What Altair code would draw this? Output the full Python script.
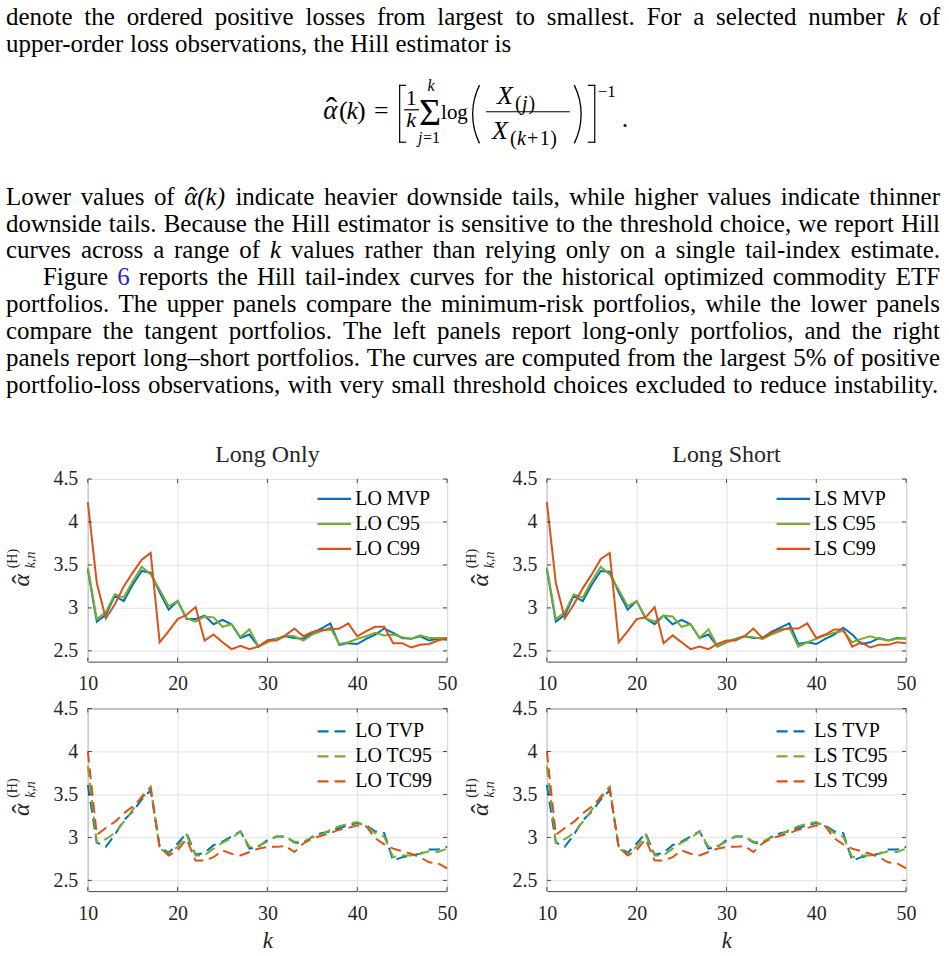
import altair as alt
import pandas as pd

# ---------------------------------------------------------------- data
K = list(range(10, 51))

LO_MVP = [3.45, 2.84, 2.92, 3.14, 3.08, 3.27, 3.43, 3.41, 3.18, 2.98, 3.08, 2.87, 2.87, 2.91,
          2.81, 2.86, 2.81, 2.65, 2.69, 2.55, 2.62, 2.64, 2.67, 2.65, 2.64, 2.71, 2.76, 2.82,
          2.57, 2.59, 2.58, 2.64, 2.69, 2.76, 2.71, 2.65, 2.64, 2.67, 2.62, 2.64, 2.63]
LO_C95 = [3.47, 2.87, 2.95, 3.16, 3.12, 3.31, 3.48, 3.39, 3.21, 3.02, 3.08, 2.88, 2.84, 2.90,
          2.89, 2.78, 2.81, 2.66, 2.75, 2.55, 2.60, 2.64, 2.68, 2.67, 2.62, 2.69, 2.73, 2.77,
          2.58, 2.60, 2.64, 2.67, 2.71, 2.68, 2.69, 2.66, 2.64, 2.68, 2.65, 2.65, 2.65]
LO_C99 = [4.23, 3.29, 2.88, 3.04, 3.25, 3.41, 3.56, 3.64, 2.60, 2.73, 2.87, 2.92, 3.01, 2.62,
          2.69, 2.60, 2.52, 2.56, 2.52, 2.55, 2.62, 2.62, 2.68, 2.76, 2.67, 2.72, 2.74, 2.75,
          2.76, 2.82, 2.67, 2.73, 2.78, 2.78, 2.59, 2.59, 2.54, 2.57, 2.58, 2.62, 2.65]

LS_MVP = [3.45, 2.84, 2.92, 3.14, 3.08, 3.27, 3.43, 3.42, 3.18, 2.98, 3.08, 2.88, 2.81, 2.91,
          2.81, 2.86, 2.81, 2.65, 2.69, 2.55, 2.60, 2.64, 2.67, 2.65, 2.65, 2.72, 2.77, 2.82,
          2.58, 2.60, 2.58, 2.64, 2.69, 2.77, 2.69, 2.58, 2.60, 2.65, 2.62, 2.65, 2.64]
LS_C95 = [3.47, 2.87, 2.95, 3.16, 3.12, 3.31, 3.48, 3.39, 3.21, 3.02, 3.08, 2.88, 2.84, 2.91,
          2.90, 2.78, 2.81, 2.65, 2.75, 2.55, 2.60, 2.64, 2.67, 2.66, 2.64, 2.69, 2.73, 2.77,
          2.55, 2.60, 2.64, 2.68, 2.71, 2.73, 2.60, 2.64, 2.67, 2.64, 2.62, 2.64, 2.65]
LS_C99 = [4.23, 3.29, 2.88, 3.04, 3.23, 3.39, 3.57, 3.64, 2.60, 2.73, 2.87, 2.89, 3.01, 2.59,
          2.68, 2.60, 2.52, 2.55, 2.52, 2.58, 2.62, 2.62, 2.67, 2.76, 2.65, 2.71, 2.75, 2.76,
          2.76, 2.82, 2.65, 2.69, 2.75, 2.75, 2.55, 2.60, 2.54, 2.57, 2.57, 2.60, 2.59]

LO_TVP = [3.61, 2.94, 2.89, 3.03, 3.20, 3.30, 3.44, 3.55, 2.89, 2.82, 2.93, 3.05, 2.80, 2.82,
          2.91, 2.95, 3.01, 3.07, 2.87, 2.89, 2.97, 3.01, 3.01, 2.94, 2.93, 3.01, 3.05, 3.07,
          3.11, 3.14, 3.17, 3.14, 3.07, 3.05, 2.73, 2.77, 2.79, 2.81, 2.86, 2.86, 2.89]
LO_TC95 = [3.83, 2.94, 2.98, 3.05, 3.18, 3.32, 3.48, 3.59, 2.87, 2.81, 2.89, 3.03, 2.79, 2.79,
           2.87, 2.94, 2.99, 3.07, 2.89, 2.90, 2.95, 3.01, 3.01, 2.95, 2.95, 3.00, 3.03, 3.09,
           3.13, 3.16, 3.18, 3.13, 3.05, 3.01, 2.77, 2.79, 2.79, 2.81, 2.84, 2.83, 2.87]
LO_TC99 = [4.00, 3.03, 3.11, 3.18, 3.28, 3.36, 3.46, 3.57, 2.89, 2.79, 2.85, 2.98, 2.73, 2.73,
           2.77, 2.85, 2.81, 2.79, 2.83, 2.87, 2.89, 2.89, 2.90, 2.83, 2.93, 2.99, 3.02, 3.05,
           3.09, 3.11, 3.14, 3.13, 2.99, 2.92, 2.87, 2.84, 2.81, 2.77, 2.71, 2.70, 2.64]

LS_TVP = [3.61, 2.94, 2.89, 3.03, 3.20, 3.30, 3.44, 3.55, 2.89, 2.82, 2.93, 3.05, 2.80, 2.82,
          2.91, 2.95, 3.01, 3.07, 2.87, 2.89, 2.97, 3.01, 3.01, 2.94, 2.93, 3.01, 3.05, 3.07,
          3.11, 3.14, 3.17, 3.14, 3.07, 3.05, 2.73, 2.77, 2.79, 2.81, 2.86, 2.86, 2.89]
LS_TC95 = [3.83, 2.94, 2.98, 3.05, 3.18, 3.32, 3.48, 3.59, 2.87, 2.81, 2.89, 3.03, 2.79, 2.79,
           2.87, 2.94, 2.99, 3.07, 2.89, 2.90, 2.95, 3.01, 3.01, 2.95, 2.95, 3.00, 3.03, 3.09,
           3.13, 3.16, 3.18, 3.13, 3.05, 3.01, 2.77, 2.79, 2.79, 2.81, 2.84, 2.83, 2.87]
LS_TC99 = [4.00, 3.03, 3.11, 3.18, 3.28, 3.36, 3.46, 3.57, 2.89, 2.79, 2.85, 2.98, 2.73, 2.73,
           2.77, 2.85, 2.81, 2.79, 2.83, 2.87, 2.89, 2.89, 2.90, 2.83, 2.93, 2.99, 3.02, 3.05,
           3.09, 3.11, 3.14, 3.13, 2.99, 2.92, 2.87, 2.84, 2.81, 2.77, 2.71, 2.70, 2.64]

NAMES_TL = ["LO MVP", "LO C95", "LO C99"]
NAMES_TR = ["LS MVP", "LS C95", "LS C99"]
NAMES_BL = ["LO TVP", "LO TC95", "LO TC99"]
NAMES_BR = ["LS TVP", "LS TC95", "LS TC99"]
PANEL_TITLES = ["Long Only", "Long Short"]
X_TICKS = [10, 20, 30, 40, 50]
Y_TICKS = [2.5, 3, 3.5, 4, 4.5]

BODY_BLOCKS = [
    ["denote the ordered positive losses from largest to smallest. For a selected number *k of",
     "upper-order loss observations, the Hill estimator is"],
    ["Lower values of ~\u03b1(k) indicate heavier downside tails, while higher values indicate thinner",
     "downside tails. Because the Hill estimator is sensitive to the threshold choice, we report Hill",
     "curves across a range of *k values rather than relying only on a single tail-index estimate.",
     "Figure #6 reports the Hill tail-index curves for the historical optimized commodity ETF",
     "portfolios. The upper panels compare the minimum-risk portfolios, while the lower panels",
     "compare the tangent portfolios. The left panels report long-only portfolios, and the right",
     "panels report long\u2013short portfolios. The curves are computed from the largest 5% of positive",
     "portfolio-loss observations, with very small threshold choices excluded to reduce instability."],
]

# ---------------------------------------------------------------- style
SERIF = "Liberation Serif"
INK = "#262626"
BOX = "#444444"
GRID = "#e2e2e2"
COLORS = ["#0072BD", "#77AC30", "#D95319"]
LINK = "#2323dd"
DASH = [11, 6]
PW, PH = 360, 183
OX = 87            # page x of the panels' plot origin (text block is laid out relative to it)
HAT = "\u02c6"

TIMES_W = {" ": 250, ",": 250, ".": 250, "-": 333, "\u2013": 500, "%": 833, "(": 333, ")": 333,
           ":": 278, ";": 278, "=": 564, "+": 564,
           "A": 722, "B": 667, "C": 667, "D": 722, "E": 611, "F": 556, "G": 722, "H": 722,
           "I": 333, "J": 389, "K": 722, "L": 611, "M": 889, "N": 722, "O": 722, "P": 556,
           "Q": 722, "R": 667, "S": 556, "T": 611, "U": 722, "V": 722, "W": 944, "X": 722,
           "Y": 722, "Z": 611,
           "a": 444, "b": 500, "c": 444, "d": 500, "e": 444, "f": 333, "g": 500, "h": 500,
           "i": 278, "j": 278, "k": 500, "l": 278, "m": 778, "n": 500, "o": 500, "p": 500,
           "q": 500, "r": 333, "s": 389, "t": 278, "u": 500, "v": 500, "w": 722, "x": 500,
           "y": 500, "z": 444}
ITALIC_W = {"k": 444, "\u03b1": 560, "j": 278, "X": 611}


def tok_width(tok, italic):
    total = 0
    for ch in tok:
        if italic and ch in ITALIC_W:
            total += ITALIC_W[ch]
        elif ch in TIMES_W:
            total += TIMES_W[ch]
        elif ch.isdigit():
            total += 500
        else:
            total += ITALIC_W.get(ch, 500)
    return total / 1000.0


FS = 25
LEFT, RIGHT = 5, 941
INDENT = 42
BLOCK_TOP = [23, 203]
LEAD = 27

rows = []
for b, (block, top) in enumerate(zip(BODY_BLOCKS, BLOCK_TOP)):
    for i, line in enumerate(block):
        parsed = []
        for t in line.split(" "):
            if t.startswith("*"):
                parsed.append((t[1:], "i", "black", False))
            elif t.startswith("~"):
                parsed.append((t[1:], "i", "black", True))
            elif t.startswith("#"):
                parsed.append((t[1:], "n", LINK, False))
            else:
                parsed.append((t, "n", "black", False))
        left = INDENT if line.startswith("Figure") else LEFT
        justify = not (b == 0 and i == len(block) - 1)
        widths = [tok_width(t, s == "i") * FS for t, s, _, _ in parsed]
        space = 0.25 * FS
        natural = sum(widths) + space * (len(parsed) - 1)
        gap = space + ((RIGHT - left - natural) / (len(parsed) - 1) if justify else 0)
        x = left
        y = top + i * LEAD
        for (t, s, c, hat), w in zip(parsed, widths):
            rows.append({"t": t, "x": x - OX, "y": y, "fs": FS, "st": s, "al": "left", "c": c})
            if hat:
                rows.append({"t": HAT, "x": x + 7.5 - OX, "y": y + 1, "fs": 27, "st": "n",
                             "al": "center", "c": "black"})
            x += w + gap

# displayed formula  alpha-hat(k) = [ 1/k sum log( X(j) / X(k+1) ) ]^-1 .
FORMULA = [
    ("\u03b1", 330, 117, 27, "i", "center"),
    (HAT, 331, 119, 34, "n", "center"),
    ("(", 343, 117, 26, "n", "center"),
    ("k", 352, 117, 26, "i", "center"),
    (")", 361, 117, 26, "n", "center"),
    ("=", 381, 117, 26, "n", "center"),
    ("1", 411, 103, 22, "n", "center"),
    ("k", 411, 125, 22, "i", "center"),
    ("\u03a3", 430, 123, 38, "n", "center"),
    ("k", 431, 89, 16, "i", "center"),
    ("j", 418, 141, 16, "i", "left"),
    ("=1", 423, 141, 16, "n", "left"),
    ("log", 441, 117, 21, "n", "left"),
    ("X", 497, 102, 26, "i", "left"),
    ("(", 515, 108, 20, "n", "left"),
    ("j", 522, 108, 20, "i", "left"),
    (")", 528.5, 108, 20, "n", "left"),
    ("X", 492, 137, 26, "i", "left"),
    ("(", 510, 143, 20, "n", "left"),
    ("k", 517, 143, 20, "i", "left"),
    ("+", 527, 143, 20, "n", "left"),
    ("1", 540, 143, 20, "n", "left"),
    (")", 550.5, 143, 20, "n", "left"),
    ("\u22121", 598, 95, 17, "n", "left"),
    (".", 622, 125, 26, "n", "left"),
]
for t, x, y, fs, st, al in FORMULA:
    rows.append({"t": t, "x": x - OX, "y": y, "fs": fs, "st": st, "al": al, "c": "black"})
text_df = pd.DataFrame(rows)

RULES = pd.DataFrame([
    (399.5, 83, 399.5, 141), (399, 83.5, 406, 83.5), (399, 140.5, 406, 140.5),
    (595, 83, 595, 141), (588, 83.5, 595.5, 83.5), (588, 140.5, 595.5, 140.5),
    (404, 108, 419, 108), (486, 110, 570, 110),
], columns=["x", "y", "x2", "y2"])
RULES["x"] = RULES["x"] - OX
RULES["x2"] = RULES["x2"] - OX


def text_layer(st, al):
    return alt.Chart(text_df).transform_filter(
        f"datum.st == '{st}' && datum.al == '{al}'"
    ).mark_text(font=SERIF, align=al, baseline="alphabetic",
                fontStyle="italic" if st == "i" else "normal").encode(
        x=alt.X("x:Q", scale=None, axis=None),
        y=alt.Y("y:Q", scale=None, axis=None),
        text="t:N",
        size=alt.Size("fs:Q", scale=None),
        color=alt.Color("c:N", scale=None),
    )


rule_layer = alt.Chart(RULES).mark_rule(color="black", strokeWidth=1.2).encode(
    x=alt.X("x:Q", scale=None, axis=None), y=alt.Y("y:Q", scale=None, axis=None),
    x2="x2:Q", y2="y2:Q")
arc_l = alt.Chart(RULES.head(1)).mark_arc(theta=4.25, theta2=5.175, radius=66, radius2=64.7,
                                          color="black").encode(
    x=alt.value(538 - OX), y=alt.value(112.5))
arc_r = alt.Chart(RULES.head(1)).mark_arc(theta=1.108, theta2=2.034, radius=66, radius2=64.7,
                                          color="black").encode(
    x=alt.value(516 - OX), y=alt.value(112.5))

text_chart = alt.layer(
    text_layer("n", "left"), text_layer("i", "left"),
    text_layer("n", "center"), text_layer("i", "center"),
    rule_layer, arc_l, arc_r,
).properties(width=949 - OX, height=437, view=alt.ViewBackground(stroke="transparent"))


# ---------------------------------------------------------------- panels
def panel(names, values, dashed, title=None, xtitle=False, legend_y=10):
    df = pd.DataFrame([{"k": k, "v": v, "s": n}
                       for n, vals in zip(names, values) for k, v in zip(K, vals)])
    xscale = alt.Scale(domain=[10, 50], nice=False, zero=False)
    yscale = alt.Scale(domain=[2.375, 4.5], nice=False, zero=False)
    ax_common = dict(grid=True, ticks=False, tickSize=0, domain=False, labelFont=SERIF,
                     labelFontSize=20, labelColor=INK, gridColor=GRID, gridWidth=1)
    xaxis_kw = dict(values=X_TICKS, labelPadding=12, labelFlush=False, **ax_common)
    if xtitle:
        xaxis_kw.update(title="k", titleFont=SERIF, titleFontSize=23, titleFontStyle="italic",
                        titleFontWeight="normal", titleColor=INK, titlePadding=6)
        xenc = alt.X("k:Q", scale=xscale, axis=alt.Axis(**xaxis_kw))
    else:
        xenc = alt.X("k:Q", scale=xscale, axis=alt.Axis(**xaxis_kw), title=None)
    yenc = alt.Y("v:Q", scale=yscale, title=None,
                 axis=alt.Axis(values=Y_TICKS, format="~g", labelPadding=10, **ax_common))

    leg_kw = dict(orient="none", legendX=237, legendY=legend_y, title=None,
                  symbolType="M-3.05,0H3.05", symbolSize=121, symbolStrokeWidth=2.2,
                  labelFont=SERIF, labelFontSize=20, labelColor="black", labelOffset=11,
                  rowPadding=5, padding=0)
    line_kw = dict(strokeWidth=2)
    if dashed:
        leg_kw["symbolDash"] = DASH
        line_kw["strokeDash"] = DASH

    lines = alt.Chart(df).mark_line(**line_kw).encode(
        x=xenc, y=yenc,
        color=alt.Color("s:N", scale=alt.Scale(domain=names, range=COLORS),
                        sort=names, legend=alt.Legend(**leg_kw)),
    )

    xt = pd.DataFrame({"k": X_TICKS})
    yt = pd.DataFrame({"v": Y_TICKS})
    t_bot = alt.Chart(xt).mark_rule(color=BOX, strokeWidth=1).encode(
        x=xenc, y=alt.value(PH), y2=alt.value(PH - 4))
    t_top = alt.Chart(xt).mark_rule(color=BOX, strokeWidth=1).encode(
        x=xenc, y=alt.value(0), y2=alt.value(4))
    t_lft = alt.Chart(yt).mark_rule(color=BOX, strokeWidth=1).encode(
        y=yenc, x=alt.value(0), x2=alt.value(4))
    t_rgt = alt.Chart(yt).mark_rule(color=BOX, strokeWidth=1).encode(
        y=yenc, x=alt.value(PW), x2=alt.value(PW - 4))

    # y-axis title:  alpha-hat^(H)_{k,n}
    ax0, ay0 = -64, PH / 2
    one = pd.DataFrame({"d": [0]})

    def ypiece(txt, size, italic, dx, dy, align):
        kw = dict(text=txt, font=SERIF, fontSize=size, angle=270, align=align,
                  baseline="alphabetic", dx=dx, dy=dy, color=INK)
        if italic:
            kw["fontStyle"] = "italic"
        return alt.Chart(one).mark_text(**kw).encode(x=alt.value(ax0), y=alt.value(ay0))

    ytitle = [
        ypiece("\u03b1", 24, True, -10, 5, "center"),
        ypiece(HAT, 28, False, -9, 7, "center"),
        ypiece("(H)", 14, False, 2, -7, "left"),
        ypiece("k,n", 14, True, 2, 11, "left"),
    ]
    pin = alt.Chart(one).mark_rule(opacity=0).encode(
        x=alt.value(-OX), x2=alt.value(-OX + 1), y=alt.value(80), y2=alt.value(81))

    ch = alt.layer(lines, t_bot, t_top, t_lft, t_rgt, *ytitle, pin).properties(
        width=PW, height=PH)
    if title:
        ch = ch.properties(title=alt.TitleParams(title, font=SERIF, fontSize=24,
                                                 fontWeight="normal", color=INK,
                                                 offset=2, anchor="middle"))
    return ch


p1 = panel(NAMES_TL, [LO_MVP, LO_C95, LO_C99], False, title=PANEL_TITLES[0])
p2 = panel(NAMES_TR, [LS_MVP, LS_C95, LS_C99], False, title=PANEL_TITLES[1])
p3 = panel(NAMES_BL, [LO_TVP, LO_TC95, LO_TC99], True, xtitle=True, legend_y=13)
p4 = panel(NAMES_BR, [LS_TVP, LS_TC95, LS_TC99], True, xtitle=True, legend_y=13)

row1 = alt.hconcat(p1, p2, spacing=100, bounds="flush").resolve_scale(
    color="independent").resolve_legend(color="independent")
row2 = alt.hconcat(p3, p4, spacing=100, bounds="flush").resolve_scale(
    color="independent").resolve_legend(color="independent")

chart = alt.vconcat(text_chart, row1, row2, spacing=3).resolve_scale(
    color="independent").resolve_legend(color="independent").properties(
    padding=0, background="white"
).configure_view(stroke=BOX, strokeWidth=1)

chart.save("out.html", embed_options={"renderer": "svg", "actions": False})
